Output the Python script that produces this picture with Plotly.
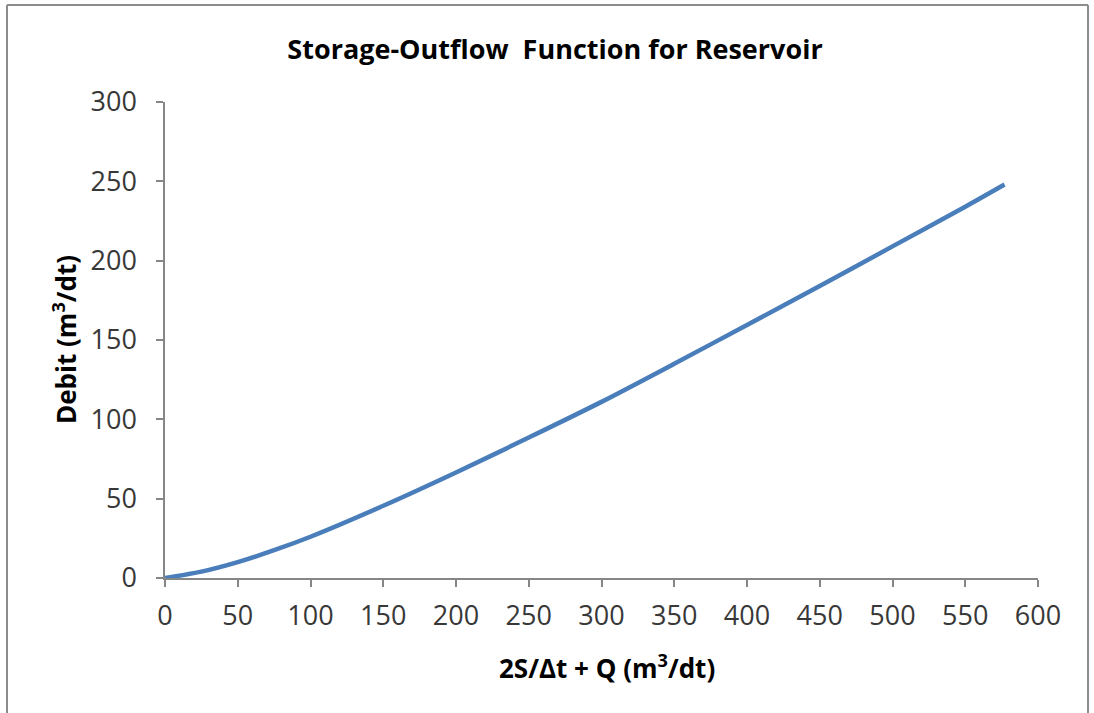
import plotly.graph_objects as go

# Data
x_vals = [0, 25, 50, 75, 100, 150, 200, 250, 300, 350, 400, 450, 500, 550, 577]
y_vals = [0, 4, 10, 17.5, 26, 45.5, 66.5, 88.5, 111, 135, 159.5, 184, 209, 234, 248]

title_text = "<b>Storage-Outflow  Function for Reservoir</b>"
x_title = "<b>2S/Δt + Q (m<sup>3</sup>/dt)</b>"
y_title = "<b>Debit (m<sup>3</sup>/dt)</b>"
x_ticks = [0, 50, 100, 150, 200, 250, 300, 350, 400, 450, 500, 550, 600]
y_ticks = [0, 50, 100, 150, 200, 250, 300]

W, H = 1094, 713
L, R, T, B = 165, 56, 102, 135

fig = go.Figure()
fig.add_trace(go.Scatter(x=x_vals, y=y_vals, mode="lines",
                         line=dict(color="#4a7ebb", width=4.5, shape="spline",
                                   smoothing=0.8),
                         showlegend=False, hoverinfo="skip"))

axis_common = dict(showgrid=False, zeroline=False, showline=True,
                   linecolor="#868686", linewidth=1.5, ticks="outside",
                   ticklen=7, tickcolor="#868686", tickwidth=1.5,
                   tickfont=dict(family="Open Sans", size=27, color="#383838"))

pw = W - L - R
ph = H - T - B
def px_to_paper_x(px):
    return (px - L) / pw
def px_to_paper_y(py):
    return (H - B - py) / ph

fig.update_layout(
    width=W, height=H,
    margin=dict(l=L, r=R, t=T, b=B),
    paper_bgcolor="white", plot_bgcolor="white",
    title=dict(text=title_text, x=555 / W, xref="container", xanchor="center",
               y=1 - 50 / H, yref="container", yanchor="middle",
               font=dict(family="Open Sans", size=27, color="black")),
    xaxis=dict(range=[0, 600], tickvals=x_ticks, ticklabelstandoff=6,
               **axis_common),
    yaxis=dict(range=[0, 300], tickvals=y_ticks, ticklabelstandoff=14,
               **axis_common),
    annotations=[
        dict(text=x_title, xref="paper", yref="paper",
             x=px_to_paper_x(607), y=px_to_paper_y(667),
             xanchor="center", yanchor="middle", showarrow=False,
             font=dict(family="Open Sans", size=26, color="black")),
        dict(text=y_title, xref="paper", yref="paper", textangle=-90,
             x=px_to_paper_x(65), y=px_to_paper_y(340),
             xanchor="center", yanchor="middle", showarrow=False,
             font=dict(family="Open Sans", size=26, color="black")),
    ],
)

border = dict(color="#8c8c8c", width=2)
fig.add_shape(type="line", xref="paper", yref="paper",
              x0=px_to_paper_x(7), x1=px_to_paper_x(7),
              y0=px_to_paper_y(5), y1=px_to_paper_y(713), line=border)
fig.add_shape(type="line", xref="paper", yref="paper",
              x0=px_to_paper_x(7), x1=px_to_paper_x(1088),
              y0=px_to_paper_y(5), y1=px_to_paper_y(5), line=border)
fig.add_shape(type="line", xref="paper", yref="paper",
              x0=px_to_paper_x(1088), x1=px_to_paper_x(1088),
              y0=px_to_paper_y(5), y1=px_to_paper_y(713), line=border)

fig.write_html("out.html", config={"displayModeBar": False},
               post_script="document.body.style.margin='0';document.body.style.overflow='hidden';")
